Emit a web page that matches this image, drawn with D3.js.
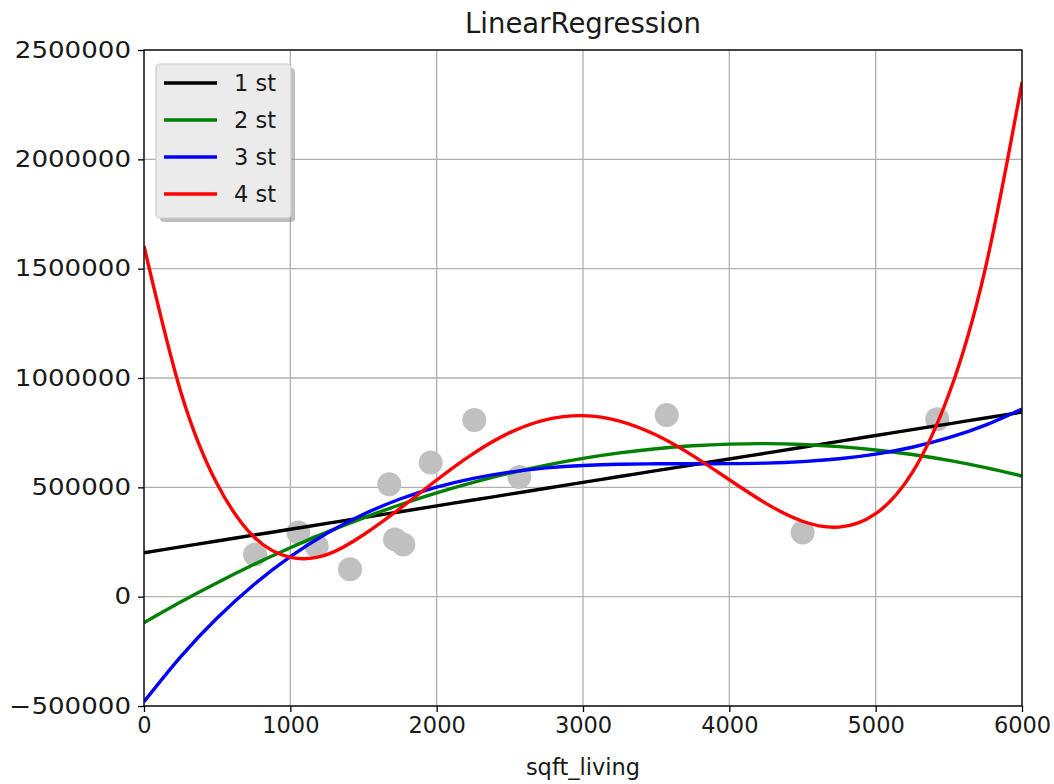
<!DOCTYPE html>
<html>
<head>
<meta charset="utf-8">
<script src="https://cdn.jsdelivr.net/npm/d3@7"></script>
<style>
  html, body { margin: 0; padding: 0; background: #fff; }
  svg { display: block; font-family: "DejaVu Sans", sans-serif; }
</style>
</head>
<body>
<svg id="chart" width="1054" height="784"></svg>
<script>
// Sample points: living area vs. price
const sqftLiving = [759, 1055, 1180, 1408, 1676, 1715, 1772, 1959, 2257, 2565, 3572, 4501, 5421];
const price = [193000, 293000, 231000, 125000, 514000, 262000, 239000, 613000, 808000, 547000, 831000, 293000, 811000];

// Grid of x positions at which each fitted curve is given
const fitX = [0, 250, 500, 750, 1000, 1250, 1500, 1750, 2000, 2250, 2500, 2750, 3000,
              3250, 3500, 3750, 4000, 4250, 4500, 4750, 5000, 5250, 5500, 5750, 6000];

// Fitted curves of degree 1..4
const fit1 = [201000, 227800, 254600, 281400, 308200, 335000, 361800, 388500, 415300, 442100, 468900, 495700, 522500,
              549300, 576100, 602900, 629700, 656500, 683300, 710000, 736800, 763600, 790400, 817200, 844000];
const fit2 = [-119000, -24600, 64000, 146800, 223800, 295100, 360600, 420300, 474200, 522400, 564800, 601400, 632200,
              657300, 676600, 690100, 697800, 699800, 696000, 686400, 671000, 649900, 623000, 590300, 551800];
const fit3 = [-480000, -274900, -97400, 54500, 183000, 289800, 377000, 446700, 500700, 541000, 569800, 588800, 600100,
              605800, 607700, 607800, 608200, 610800, 617700, 630800, 652000, 683400, 726900, 784600, 858400];
const fit4 = [1604000, 939800, 515600, 274000, 180000, 192000, 283000, 403400, 533500, 654400, 750200, 810000, 828000,
              803100, 739100, 645100, 534700, 426800, 345000, 317900, 379300, 567400, 925800, 1503000, 2352200];

const seriesNames = ["1 st", "2 st", "3 st", "4 st"];
const seriesColors = ["#000000", "#008000", "#0000ff", "#ff0000"];
const seriesValues = [fit1, fit2, fit3, fit4];

const xTicks = [0, 1000, 2000, 3000, 4000, 5000, 6000];
const yTicks = [-500000, 0, 500000, 1000000, 1500000, 2000000, 2500000];

const margin = { left: 144, right: 1022, top: 50, bottom: 706 };
const svg = d3.select("#chart");

const x = d3.scaleLinear().domain([0, 6000]).range([margin.left, margin.right]);
const y = d3.scaleLinear().domain([-500000, 2500000]).range([margin.bottom, margin.top]);

svg.append("defs").append("clipPath").attr("id", "plot-clip")
  .append("rect")
  .attr("x", margin.left).attr("y", margin.top)
  .attr("width", margin.right - margin.left).attr("height", margin.bottom - margin.top);

// grid
const grid = svg.append("g").attr("stroke", "#b0b0b0").attr("stroke-width", 1.3);
grid.selectAll("line.gx").data(xTicks).join("line")
  .attr("x1", d => x(d)).attr("x2", d => x(d))
  .attr("y1", margin.top).attr("y2", margin.bottom);
grid.selectAll("line.gy").data(yTicks).join("line")
  .attr("x1", margin.left).attr("x2", margin.right)
  .attr("y1", d => y(d)).attr("y2", d => y(d));

const plot = svg.append("g").attr("clip-path", "url(#plot-clip)");

// scatter of the samples
plot.append("g").selectAll("circle")
  .data(sqftLiving.map((v, i) => [v, price[i]]))
  .join("circle")
  .attr("cx", d => x(d[0])).attr("cy", d => y(d[1]))
  .attr("r", 12)
  .attr("fill", "#c0c0c0");

// fitted curves
const line = d3.line()
  .x((d, i) => x(fitX[i]))
  .y(d => y(d))
  .curve(d3.curveNatural);

plot.append("g").selectAll("path")
  .data(seriesValues)
  .join("path")
  .attr("d", d => line(d))
  .attr("fill", "none")
  .attr("stroke", (d, i) => seriesColors[i])
  .attr("stroke-width", 3.4);

// axes
const fontSize = 22.5;
const xAxis = d3.axisBottom(x).tickValues(xTicks).tickFormat(d3.format("d")).tickSizeOuter(0).tickSize(6).tickPadding(5);
const yAxis = d3.axisLeft(y).tickValues(yTicks).tickFormat(d => d < 0 ? "\u2212" + Math.abs(d) : String(d)).tickSizeOuter(0).tickSize(6).tickPadding(7);

const gx = svg.append("g").attr("transform", `translate(0,${margin.bottom})`).call(xAxis);
const gy = svg.append("g").attr("transform", `translate(${margin.left},0)`).call(yAxis);
[gx, gy].forEach(g => {
  g.select(".domain").remove();
  g.selectAll(".tick line").attr("stroke", "#000").attr("stroke-width", 1.3);
  g.selectAll(".tick text").attr("fill", "#1a1a1a").style("font-size", fontSize + "px")
    .style("font-family", "'DejaVu Sans', sans-serif");
});
// y tick labels are set a little wider than the x ones
const yStretch = 1.16;
gy.selectAll(".tick text")
  .attr("x", -13 / yStretch)
  .attr("transform", `scale(${yStretch},1)`);

// frame
svg.append("rect")
  .attr("x", margin.left).attr("y", margin.top)
  .attr("width", margin.right - margin.left).attr("height", margin.bottom - margin.top)
  .attr("fill", "none").attr("stroke", "#000").attr("stroke-width", 1.3);

// title and axis label
svg.append("text")
  .attr("x", (margin.left + margin.right) / 2).attr("y", 33)
  .attr("text-anchor", "middle")
  .style("font-size", "27.5px").attr("fill", "#1a1a1a")
  .text("LinearRegression");

svg.append("text")
  .attr("x", (margin.left + margin.right) / 2).attr("y", 775)
  .attr("text-anchor", "middle")
  .style("font-size", fontSize + "px").attr("fill", "#1a1a1a")
  .text("sqft_living");

// legend with drop shadow
const legend = svg.append("g");
legend.append("rect")
  .attr("x", 160).attr("y", 68).attr("width", 135).attr("height", 154).attr("rx", 4)
  .attr("fill", "#808080").attr("opacity", 0.5);
legend.append("rect")
  .attr("x", 156).attr("y", 64).attr("width", 135).attr("height", 154).attr("rx", 4)
  .attr("fill", "#ebebeb").attr("stroke", "#cccccc").attr("stroke-width", 1.2);

const items = legend.selectAll("g.item").data(seriesNames).join("g")
  .attr("transform", (d, i) => `translate(0,${83 + i * 37})`);
items.append("line")
  .attr("x1", 164).attr("x2", 217).attr("y1", 0).attr("y2", 0)
  .attr("stroke", (d, i) => seriesColors[i]).attr("stroke-width", 3.4);
items.append("text")
  .attr("x", 234).attr("y", 8)
  .style("font-size", fontSize + "px").attr("fill", "#1a1a1a")
  .text(d => d);
</script>
</body>
</html>
